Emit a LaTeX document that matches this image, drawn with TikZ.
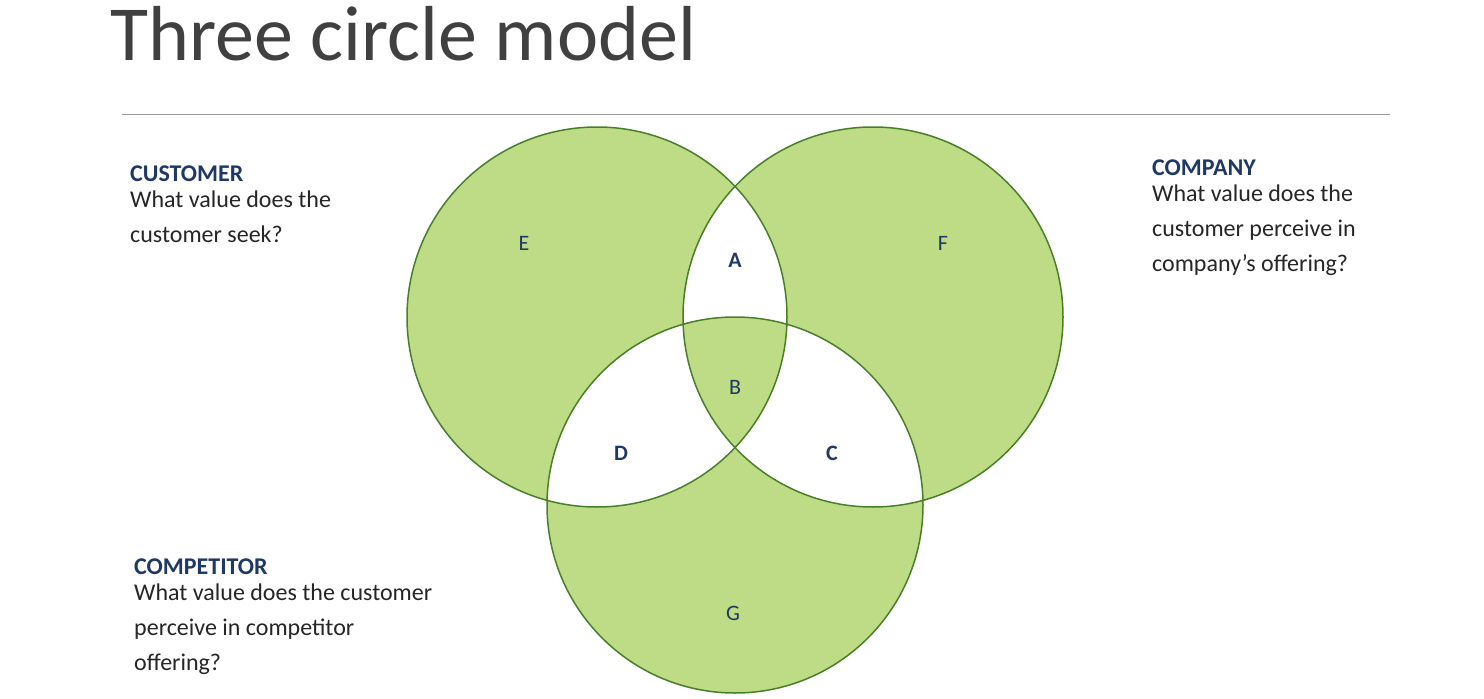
\documentclass[tikz,border=0pt]{standalone}
\usepackage{fontspec}
\setmainfont{Carlito}
\definecolor{vfill}{HTML}{BDDC85}
\definecolor{vline}{HTML}{4A7F2A}
\definecolor{navy}{HTML}{1F3864}
\definecolor{txt}{HTML}{262626}
\begin{document}
\begin{tikzpicture}[x=1pt,y=-1pt,
  head/.style={anchor=base west,font=\fontsize{24}{24}\selectfont\bfseries,text=navy,inner sep=0},
  body/.style={anchor=north west,font=\fontsize{24}{35}\selectfont,text=txt,inner sep=0,align=left},
  lab/.style={font=\fontsize{22}{22}\selectfont,text=navy}]
\useasboundingbox (0,0) rectangle (1484,699);
\fill[white] (0,0) rectangle (1484,699);
\node[anchor=base west,inner sep=0,font=\fontsize{78}{78}\selectfont,text=black!75] (title) at (110,60) {Three circle model};
\coordinate (l1) at (122,114); \coordinate (l2) at (1390,114);
\draw[black!40,line width=1] (l1) -- (l2);
\fill[vfill,even odd rule] (597,317) circle (190) (873,317) circle (190) (735,505) circle (188);
\draw[vline,line width=1.5] (597,317) circle (190) (873,317) circle (190) (735,505) circle (188);
\node[lab] (E) at (524,243) {E};
\node[lab] (F) at (943,243) {F};
\node[lab,font=\fontsize{22}{22}\selectfont\bfseries] (A) at (735,260) {A};
\node[lab] (B) at (735,387) {B};
\node[lab,font=\fontsize{22}{22}\selectfont\bfseries] (D) at (621,453) {D};
\node[lab,font=\fontsize{22}{22}\selectfont\bfseries] (C) at (832,453) {C};
\node[lab] (G) at (733,613) {G};
\node[head] (h1) at (130,181) {CUSTOMER};
\node[body] (b1) at (130,191) {What value does the\\customer seek?};
\node[head] (h2) at (1152,175) {COMPANY};
\node[body] (b2) at (1152,185) {What value does the\\customer perceive in\\company’s offering?};
\node[head] (h3) at (134,574) {COMPETITOR};
\node[body] (b3) at (134,584) {What value does the customer\\perceive in competitor\\offering?};
\end{tikzpicture}
\end{document}
